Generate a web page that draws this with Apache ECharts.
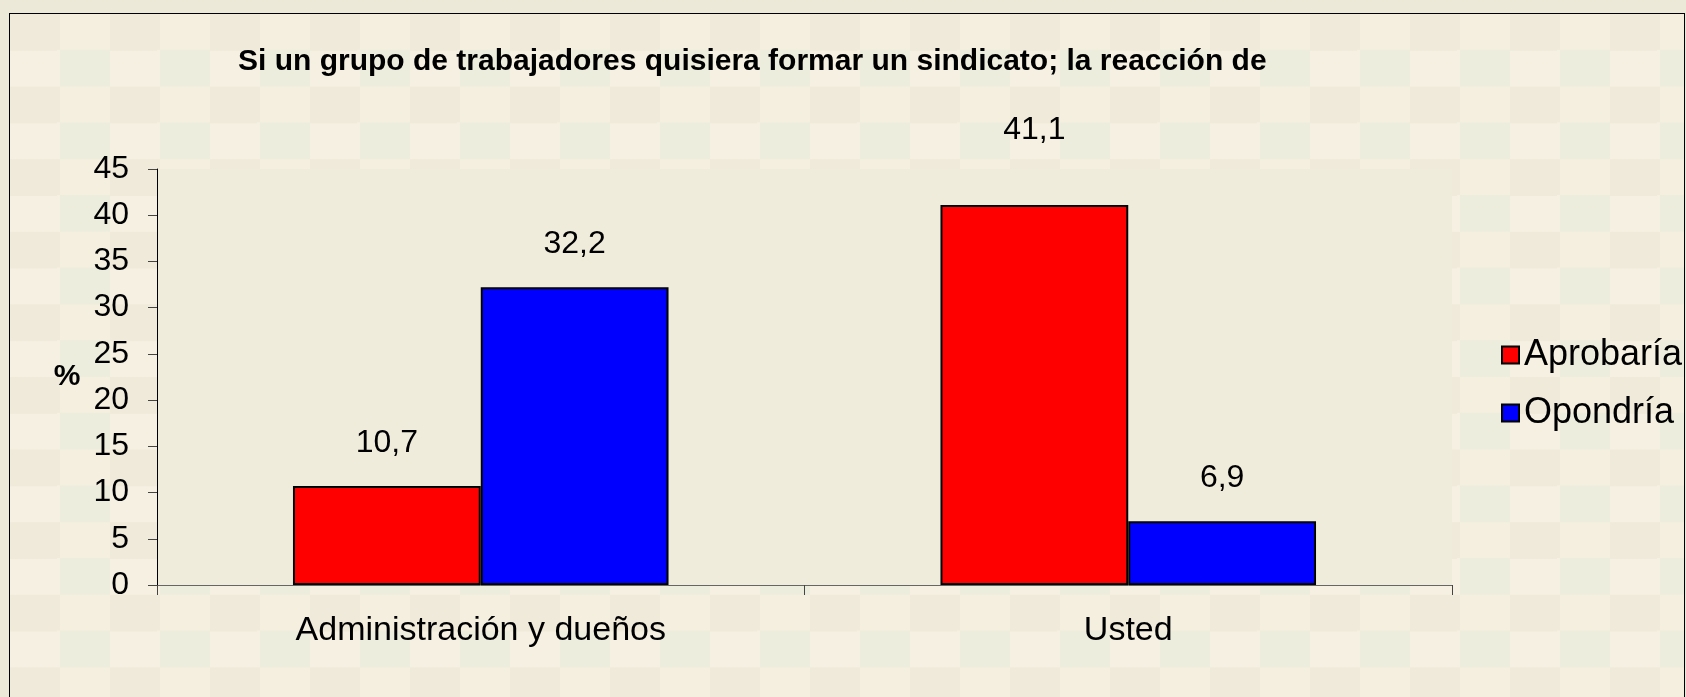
<!DOCTYPE html>
<html>
<head>
<meta charset="utf-8">
<script src="https://cdn.jsdelivr.net/npm/echarts@6/dist/echarts.min.js"></script>
<style>
    html, body { margin: 0; padding: 0; background: #ECE9D8; overflow: hidden; }
    #frame {
        position: absolute; left: 9px; top: 13px; width: 1674px; height: 690px;
        border: 1px solid #000;
        background-color: #F1EDDD;
        background-image: conic-gradient(#F4EFDF 0 25%, #EDEDDD 0 50%, #F5F0E1 0 75%, #F0EADA 0);
        background-size: 100px 72.6px;
        background-position: 0 0;
    }
    #chart { position: absolute; left: 0; top: 0; width: 1686px; height: 697px; }
</style>
</head>
<body>
<div id="frame"></div>
<div id="chart"></div>
<script>
var titleText = 'Si un grupo de trabajadores quisiera formar un sindicato; la reacción de';
var categories = ['Administración y dueños', 'Usted'];
var seriesNames = ['Aprobaría', 'Opondría'];
var aprobaria = [10.7, 41.1];
var opondria = [32.2, 6.9];
var yMin = 0, yMax = 45, yStep = 5;

var font = 'Liberation Sans, Arial, sans-serif';

// the 41,1 label sits higher than the others in the original
function withLabels(values, raisedIndex) {
    return values.map(function (v, i) {
        if (i === raisedIndex) return { value: v, label: { distance: 59 } };
        return v;
    });
}

function fmt(p) {
    return String(p.value).replace('.', ',');
}

var chart = echarts.init(document.getElementById('chart'));
var option = {
    backgroundColor: 'transparent',
    animation: false,
    textStyle: { fontFamily: font },
    title: {
        text: titleText,
        left: 233,
        top: 42,
        textStyle: { fontSize: 30, fontWeight: 'bold', color: '#000', fontFamily: font }
    },
    legend: {
        orient: 'vertical',
        left: 1496,
        top: 332,
        itemWidth: 17,
        itemHeight: 17,
        itemGap: 22,
        icon: 'rect',
        data: seriesNames,
        textStyle: { fontSize: 36, color: '#000', fontFamily: font }
    },
    grid: {
        left: 157,
        top: 169,
        right: 234,
        bottom: 112,
        show: true,
        backgroundColor: '#F0ECDC',
        borderWidth: 0
    },
    xAxis: {
        type: 'category',
        data: categories,
        axisLine: { lineStyle: { color: '#666', width: 1 } },
        axisTick: { show: true, length: 10, lineStyle: { color: '#444' } },
        axisLabel: { fontSize: 34, color: '#000', margin: 29, fontFamily: font },
        splitLine: { show: false }
    },
    yAxis: {
        type: 'value',
        min: yMin,
        max: yMax,
        interval: yStep,
        name: '%',
        nameLocation: 'middle',
        nameRotate: 0,
        nameGap: 90,
        nameTextStyle: { fontSize: 30, fontWeight: 'bold', color: '#000', align: 'center', fontFamily: font },
        axisLine: { show: true, lineStyle: { color: '#000', width: 1 } },
        axisTick: { show: true, length: 9, lineStyle: { color: '#444' } },
        axisLabel: { fontSize: 32, color: '#000', margin: 28, fontFamily: font },
        splitLine: { show: false }
    },
    series: [{
        name: seriesNames[0],
        type: 'bar',
        data: withLabels(aprobaria, 1),
        barGap: '0%',
        barCategoryGap: '42%',
        itemStyle: { color: '#FF0000', borderColor: '#000', borderWidth: 2 },
        label: { show: true, position: 'top', distance: 27, fontSize: 32, color: '#000', formatter: fmt, fontFamily: font }
    }, {
        name: seriesNames[1],
        type: 'bar',
        data: withLabels(opondria, -1),
        barGap: '0%',
        barCategoryGap: '42%',
        itemStyle: { color: '#0000FF', borderColor: '#000', borderWidth: 2 },
        label: { show: true, position: 'top', distance: 27, fontSize: 32, color: '#000', formatter: fmt, fontFamily: font }
    }]
};
chart.setOption(option);
</script>
</body>
</html>
